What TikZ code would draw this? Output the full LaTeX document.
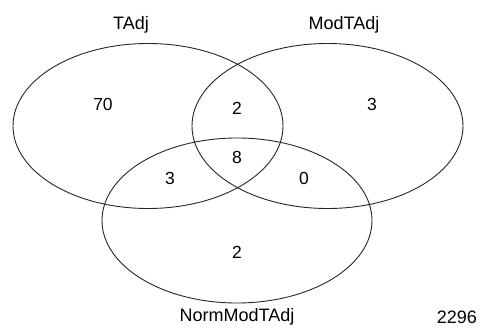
\documentclass[tikz,border=0pt]{standalone}
\usepackage{fontspec}
\setmainfont{Liberation Sans}
\begin{document}
\begin{tikzpicture}[x=1pt,y=-1pt,
  set/.style={draw=black!85,line width=0.9pt},
  lbl/.style={font=\fontsize{18}{20}\selectfont,inner sep=0pt,text=black},
  num/.style={font=\fontsize{17.5}{20}\selectfont,inner sep=0pt,text=black}]
\useasboundingbox (0,0) rectangle (481,328);
\draw[set] (148,126) ellipse [x radius=135, y radius=82.5];
\draw[set] (327.5,126) ellipse [x radius=135.5, y radius=82.5];
\draw[set] (237,220.5) ellipse [x radius=135, y radius=82.5];
\node[lbl] (tadj) at (131,25) {TAdj};
\node[lbl] (modtadj) at (344,25) {ModTAdj};
\node[lbl] (norm) at (237,317) {NormModTAdj};
\node[lbl,anchor=east] (total) at (477,317) {2296};
\node[num] (n70) at (103,104) {70};
\node[num] (n2a) at (237,108) {2};
\node[num] (n3a) at (372,104) {3};
\node[num] (n8) at (237,157) {8};
\node[num] (n3b) at (170,178) {3};
\node[num] (n0) at (304,178) {0};
\node[num] (n2b) at (237,252) {2};
\end{tikzpicture}
\end{document}
